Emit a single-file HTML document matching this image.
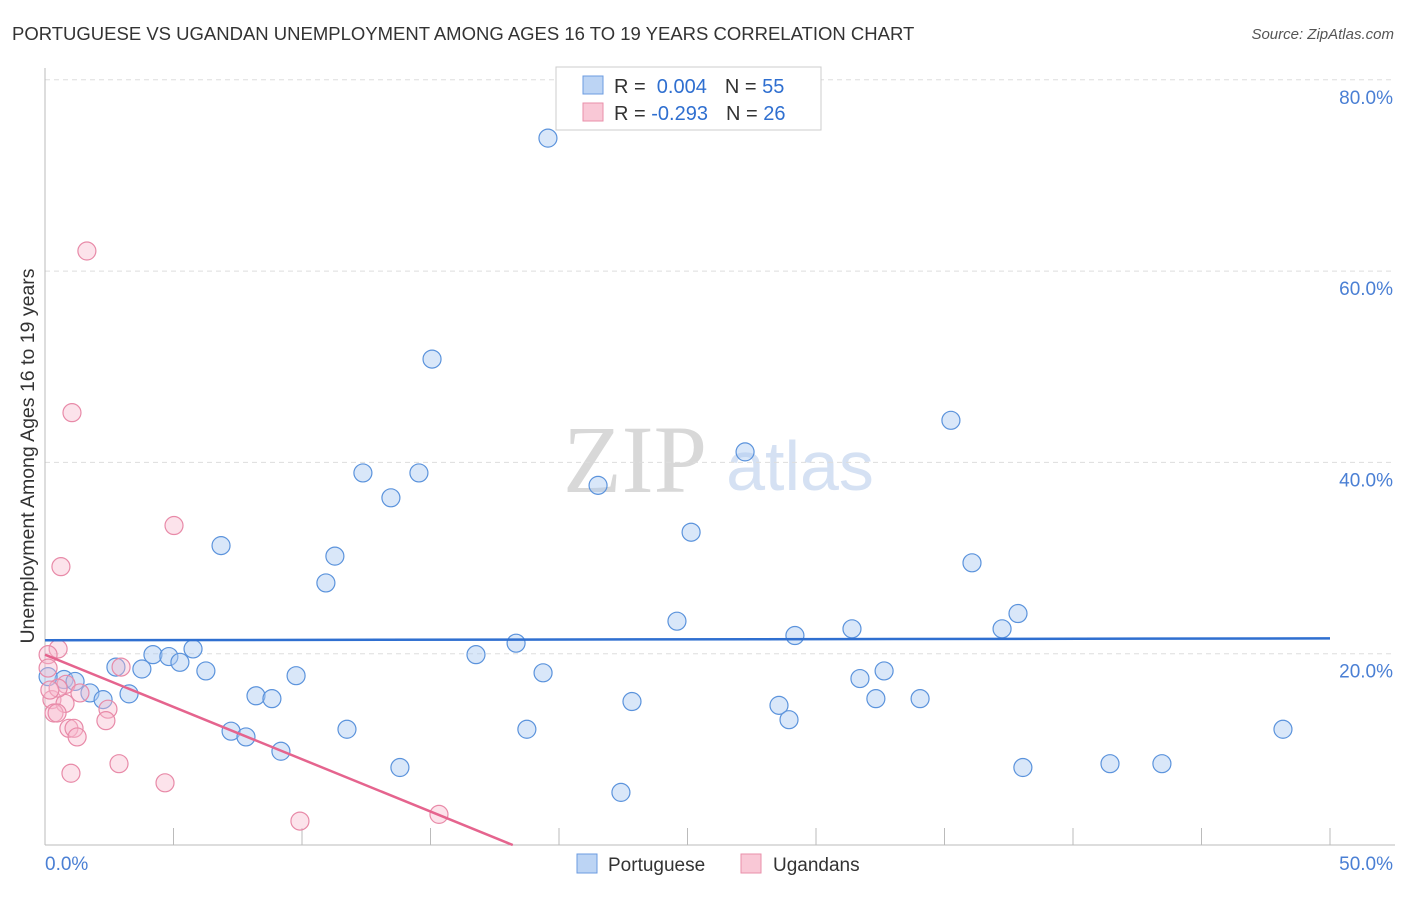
<!DOCTYPE html>
<html><head><meta charset="utf-8"><style>
body{margin:0;background:#fff;font-family:"Liberation Sans",sans-serif;}
svg text{font-family:"Liberation Sans",sans-serif;}
</style></head><body>
<svg id="c" width="1406" height="892">
<text x="12" y="40" font-size="18.5" fill="#333">PORTUGUESE VS UGANDAN UNEMPLOYMENT AMONG AGES 16 TO 19 YEARS CORRELATION CHART</text>
<text x="1394" y="39" font-size="15" fill="#555" text-anchor="end" font-style="italic">Source: ZipAtlas.com</text>
<text x="0" y="0" font-size="19.5" fill="#333" text-anchor="middle" transform="translate(34,456) rotate(-90)">Unemployment Among Ages 16 to 19 years</text>
<text x="635" y="492" font-size="96" fill="#d8d8d8" style="font-family:'Liberation Serif',serif" text-anchor="middle">ZIP</text>
<text x="800" y="490" font-size="70" fill="#d5e1f3" text-anchor="middle">atlas</text>
<g id="grid"></g><g id="marks"></g>
<g>
<rect x="556" y="67" width="265" height="63" fill="#fff" stroke="#ccc"/>
<rect x="583" y="76" width="20" height="18" fill="#bcd4f4" stroke="#6b9be0"/>
<rect x="583" y="103" width="20" height="18" fill="#f9c8d6" stroke="#e98faa"/>
<text x="614" y="93" font-size="20" fill="#333">R = <tspan fill="#2f6fd0">&#160;0.004</tspan><tspan dx="18" fill="#333">N = </tspan><tspan fill="#2f6fd0">55</tspan></text>
<text x="614" y="120" font-size="20" fill="#333">R = <tspan fill="#2f6fd0">-0.293</tspan><tspan dx="18" fill="#333">N = </tspan><tspan fill="#2f6fd0">26</tspan></text>
</g>
<g>
<rect x="577" y="854" width="20" height="19" fill="#bcd4f4" stroke="#6b9be0"/>
<text x="608" y="871" font-size="19" fill="#333">Portuguese</text>
<rect x="741" y="854" width="20" height="19" fill="#f9c8d6" stroke="#e98faa"/>
<text x="773" y="871" font-size="19" fill="#333">Ugandans</text>
</g>
</svg>
<script>
const bx=[19.57,15.06,35.25,27.24,12.37,14.55,21.52,13.46,25.14,6.85,11.28,36.07,10.93,24.59,37.86,31.40,37.24,29.18,18.33,5.76,4.20,4.82,5.25,16.77,2.76,3.77,6.26,32.65,9.77,19.38,31.71,0.74,1.17,0.12,1.75,3.27,2.26,8.21,8.83,32.33,34.05,22.84,28.56,7.24,7.82,11.75,18.75,48.17,28.95,9.18,13.81,38.05,41.44,43.46,22.41];
const by=[73.9,50.8,44.4,41.1,38.9,38.9,37.6,36.3,32.7,31.3,30.2,29.5,27.4,23.4,24.2,22.6,22.6,21.9,21.1,20.5,19.9,19.7,19.1,19.9,18.6,18.4,18.2,18.2,17.7,18.0,17.4,17.3,17.1,17.6,15.9,15.8,15.2,15.6,15.3,15.3,15.3,15.0,14.6,11.9,11.3,12.1,12.1,12.1,13.1,9.8,8.1,8.1,8.5,8.5,5.5];
const px=[1.63,1.05,5.02,0.62,0.51,0.12,0.12,2.96,0.82,1.36,0.27,0.78,2.45,0.35,0.47,2.37,0.93,1.13,1.25,1.01,2.88,4.67,9.92,15.33,0.51,0.19];
const py=[62.1,45.2,33.4,29.1,20.5,19.9,18.5,18.6,16.8,15.9,15.2,14.8,14.2,13.8,13.8,13.0,12.2,12.2,11.3,7.5,8.5,6.5,2.5,3.2,16.4,16.2];
const blueTrend=[21.4,21.6];
const pinkTrend=[19.9,0];
const pinkTrendEndX=18.2;
const yTicks=[20,40,60,80];
const xTicks=[0,5,10,15,20,25,30,35,40,45,50];
const NS="http://www.w3.org/2000/svg";
const X=v=>45+v/50*1285, Y=v=>845-v/20*191.3;
function mk(t,a,p){const e=document.createElementNS(NS,t);for(const k in a)e.setAttribute(k,a[k]);p.appendChild(e);return e;}
const g=document.getElementById('grid'),m=document.getElementById('marks');
yTicks.forEach(t=>{const l=mk('line',{x1:45,x2:1395,y1:Y(t),y2:Y(t),stroke:'#ddd','stroke-dasharray':'5,4'},g);


const tx=mk('text',{x:1393,y:Y(t)+24,'font-size':19,fill:'#4a7fd4','text-anchor':'end'},g);tx.textContent=t.toFixed(1)+'%';

});
const ax=mk('line',{x1:45,x2:1395,y1:845,y2:845,stroke:'#bbb'},g);


const ay=mk('line',{x1:45,x2:45,y1:68,y2:845,stroke:'#bbb'},g);


xTicks.forEach((t,i)=>{if(i==0)return;const l=mk('line',{x1:X(t),x2:X(t),y1:828,y2:845,stroke:'#bbb'},g);

});
[[0,'start',45],[50,'end',1393]].forEach(([v,a,x])=>{const t=mk('text',{x:x,y:870,'font-size':19,fill:'#4a7fd4','text-anchor':a},g);t.textContent=v.toFixed(1)+'%';

});
bx.forEach((v,i)=>{const c=mk('circle',{cx:X(v),cy:Y(by[i]),r:9,fill:'rgba(170,202,242,0.45)',stroke:'#5b93dc','stroke-width':1.2},m);

});
px.forEach((v,i)=>{const c=mk('circle',{cx:X(v),cy:Y(py[i]),r:9,fill:'rgba(248,185,205,0.4)',stroke:'#e88aa8','stroke-width':1.2},m);

});
const bl=mk('line',{x1:X(0),y1:Y(blueTrend[0]),x2:X(50),y2:Y(blueTrend[1]),stroke:'#2f6fd0','stroke-width':2.5},m);


const pl=mk('line',{x1:X(0),y1:Y(pinkTrend[0]),x2:X(pinkTrendEndX),y2:Y(pinkTrend[1]),stroke:'#e5648e','stroke-width':2.5},m);


</script>
</body></html>
